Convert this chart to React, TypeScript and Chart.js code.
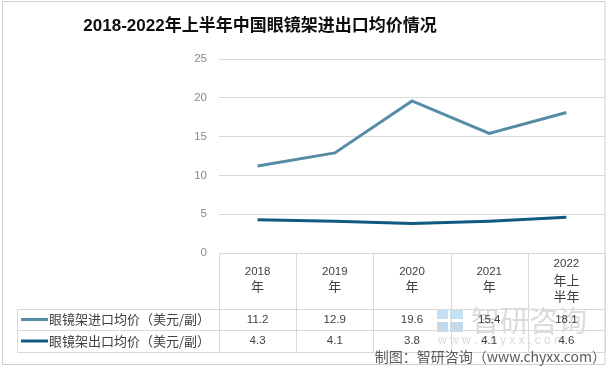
import React, { useEffect, useRef } from "react";
import { Chart, registerables } from "chart.js";

Chart.register(...registerables);

const TITLE = "2018-2022年上半年中国眼镜架进出口均价情况";
const CATEGORIES = ["2018年", "2019年", "2020年", "2021年", "2022年上半年"];
const HEADER_LINES = [["2018", "年"], ["2019", "年"], ["2020", "年"], ["2021", "年"], ["2022", "年上", "半年"]];
const SERIES_NAMES = ["眼镜架进口均价（美元/副）", "眼镜架出口均价（美元/副）"];
const IMPORT_PRICE = [11.2, 12.9, 19.6, 15.4, 18.1];
const EXPORT_PRICE = [4.3, 4.1, 3.8, 4.1, 4.6];
const Y_TICKS = [0, 5, 10, 15, 20, 25];
const SOURCE = "制图：智研咨询（www.chyxx.com）";
const WATERMARK = "智研咨询";
const WATERMARK_URL = "w w w . c h y x x . c o m";

const COLORS = ["#568ca6", "#0f5a80"];
const NUM_FONT = "'Liberation Sans', 'Noto Sans CJK SC', sans-serif";
const CJK_FONT = "'Noto Sans CJK SC', 'Liberation Sans', sans-serif";

const tablePlugin = {
  id: "tablePlugin",
  afterDraw(chart: any) {
    const ctx = chart.ctx as CanvasRenderingContext2D;
    const x = chart.scales.x;
    const area = chart.chartArea;
    const n = CATEGORIES.length;
    const colW = (area.right - area.left) / n;
    const top = area.bottom;
    const row1 = 309;
    const row2 = 330;
    const bottom = 352;
    const tableLeft = 17;

    ctx.save();
    // frame
    ctx.strokeStyle = "#d0d0d0";
    ctx.lineWidth = 1;
    ctx.strokeRect(2.5, 1.5, 602.5, 363);

    // title
    ctx.fillStyle = "#0d0d0d";
    ctx.font = `bold 17px 'Liberation Sans', 'Noto Sans CJK SC', sans-serif`;
    ctx.textAlign = "center";
    ctx.textBaseline = "middle";
    ctx.fillText(TITLE, 260, 26);

    // watermark
    ctx.fillStyle = "rgba(150,200,230,0.55)";
    ctx.fillRect(437, 310, 11, 9);
    ctx.fillRect(450, 310, 13, 9);
    ctx.fillStyle = "rgba(120,170,210,0.45)";
    ctx.fillRect(437, 322, 11, 10);
    ctx.fillRect(450, 322, 13, 10);
    ctx.fillStyle = "rgba(170,175,180,0.45)";
    ctx.font = `29px ${CJK_FONT}`;
    ctx.textAlign = "left";
    ctx.fillText(WATERMARK, 471, 321);
    ctx.font = `12px ${NUM_FONT}`;
    ctx.fillText(WATERMARK_URL, 438, 341);

    // table lines
    ctx.strokeStyle = "#d9d9d9";
    ctx.lineWidth = 1;
    ctx.beginPath();
    for (let i = 0; i <= n; i++) {
      const lx = Math.round(area.left + i * colW) + 0.5;
      ctx.moveTo(lx, top);
      ctx.lineTo(lx, bottom);
    }
    ctx.moveTo(tableLeft + 0.5, row1);
    ctx.lineTo(tableLeft + 0.5, bottom);
    [row1, row2, bottom].forEach((ly) => {
      ctx.moveTo(tableLeft, ly + 0.5);
      ctx.lineTo(area.right, ly + 0.5);
    });
    ctx.stroke();

    // headers
    ctx.fillStyle = "#404040";
    ctx.textAlign = "center";
    ctx.textBaseline = "middle";
    HEADER_LINES.forEach((lines, i) => {
      const cx = x.getPixelForValue(i);
      const lh = lines.length === 3 ? 16.3 : 15;
      const mid = lines.length === 3 ? 280 : 279;
      lines.forEach((t, j) => {
        const ly = mid + (j - (lines.length - 1) / 2) * lh;
        ctx.font = /^\d+$/.test(t) ? `11.5px ${NUM_FONT}` : `13px ${CJK_FONT}`;
        ctx.fillText(t, cx, ly);
      });
    });

    // legend cells and values
    const rows = [IMPORT_PRICE, EXPORT_PRICE];
    const rowMid = [319.5, 341];
    rows.forEach((vals, r) => {
      ctx.strokeStyle = COLORS[r];
      ctx.lineWidth = 3;
      ctx.beginPath();
      ctx.moveTo(21, rowMid[r]);
      ctx.lineTo(48, rowMid[r]);
      ctx.stroke();
      ctx.fillStyle = "#404040";
      ctx.textAlign = "left";
      ctx.font = `13px ${CJK_FONT}`;
      ctx.fillText(SERIES_NAMES[r], 49, rowMid[r]);
      ctx.textAlign = "center";
      ctx.font = `11.5px ${NUM_FONT}`;
      vals.forEach((v, i) => {
        ctx.fillText(v.toFixed(1), x.getPixelForValue(i), rowMid[r]);
      });
    });

    // source
    ctx.fillStyle = "#595959";
    ctx.textAlign = "right";
    ctx.font = `14px ${CJK_FONT}`;
    ctx.fillText(SOURCE, 606, 357);
    ctx.restore();
  },
};

export default function App() {
  const ref = useRef<HTMLCanvasElement>(null);
  useEffect(() => {
    if (!ref.current) return;
    const chart = new Chart(ref.current, {
      type: "line",
      data: {
        labels: CATEGORIES,
        datasets: [
          {
            label: SERIES_NAMES[0],
            data: IMPORT_PRICE,
            borderColor: COLORS[0],
            backgroundColor: COLORS[0],
            borderWidth: 3,
            pointRadius: 0,
            tension: 0,
          },
          {
            label: SERIES_NAMES[1],
            data: EXPORT_PRICE,
            borderColor: COLORS[1],
            backgroundColor: COLORS[1],
            borderWidth: 3,
            pointRadius: 0,
            tension: 0,
          },
        ],
      },
      options: {
        responsive: false,
        animation: false,
        devicePixelRatio: 1,
        layout: { padding: { left: 179, top: 59, right: 4, bottom: 115 } },
        plugins: {
          legend: { display: false },
          title: { display: false },
          tooltip: { enabled: false },
        },
        scales: {
          x: { type: "category", display: false, offset: true },
          y: {
            min: Y_TICKS[0],
            max: Y_TICKS[Y_TICKS.length - 1],
            afterFit(scale: any) {
              scale.width = 40;
            },
            afterBuildTicks(scale: any) {
              scale.ticks = Y_TICKS.map((v) => ({ value: v }));
            },
            border: { display: false },
            grid: { color: "#d9d9d9", drawTicks: false, lineWidth: 1 },
            ticks: {
              padding: 12,
              color: "#8a8a8a",
              font: { family: NUM_FONT, size: 11.5 },
            },
          },
        },
      },
      plugins: [tablePlugin],
    });
    return () => chart.destroy();
  }, []);
  return (
    <div style={{ position: "fixed", left: 0, top: 0, width: 609, height: 368, background: "#ffffff" }}>
      <canvas ref={ref} width={609} height={368} style={{ width: 609, height: 368, display: "block" }} />
    </div>
  );
}
